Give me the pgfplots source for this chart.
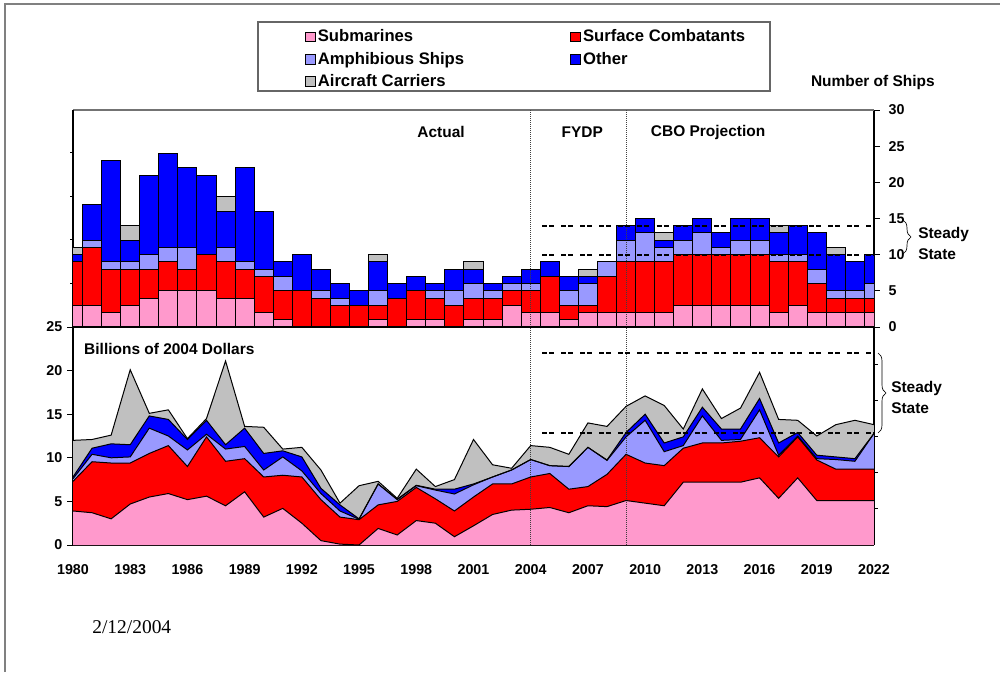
\documentclass[border=0pt]{standalone}
\usepackage{pgfplots}
\pgfplotsset{compat=1.18}
\usepackage{pgfplotstable}
\usepackage{fontspec}
\setmainfont{Liberation Sans}
\newfontfamily\datefont{Liberation Serif}
\usetikzlibrary{decorations.pathreplacing}
\definecolor{subc}{HTML}{FF99CC}
\definecolor{surfc}{HTML}{FF0000}
\definecolor{amphc}{HTML}{9999FF}
\definecolor{otherc}{HTML}{0000FF}
\definecolor{carrc}{HTML}{C0C0C0}
\newcommand\tfont{\fontsize{11.6}{13}\selectfont\bfseries}
\newcommand\kfont{\fontsize{10.7}{12}\selectfont\bfseries}
\newcommand\lfont{\fontsize{12.5}{14}\selectfont\bfseries}

\pgfplotstableread{
year sub surf amph other carr
1980 3 6 0 1 1
1981 3 8 1 5 0
1982 2 6 1 14 0
1983 3 5 1 3 2
1984 4 4 2 11 0
1985 5 4 2 13 0
1986 5 3 3 11 0
1987 5 5 0 11 0
1988 4 5 2 5 2
1989 4 4 1 13 0
1990 2 5 1 8 0
1991 1 4 2 2 0
1992 0 5 0 5 0
1993 0 4 1 3 0
1994 0 3 1 2 0
1995 0 3 0 2 0
1996 1 2 2 4 1
1997 0 4 0 2 0
1998 1 4 0 2 0
1999 1 3 1 1 0
2000 0 3 2 3 0
2001 1 3 2 2 1
2002 1 3 1 1 0
2003 3 2 1 1 0
2004 2 3 1 2 0
2005 2 5 0 2 0
2006 1 2 2 2 0
2007 2 1 3 1 1
2008 2 5 2 0 0
2009 2 7 3 2 0
2010 2 7 4 2 0
2011 2 7 2 1 1
2012 3 7 2 2 0
2013 3 7 3 2 0
2014 3 7 1 2 0
2015 3 7 2 3 0
2016 3 7 2 3 0
2017 2 7 1 3 1
2018 3 6 1 4 0
2019 2 4 2 5 0
2020 2 2 1 5 1
2021 2 2 1 4 0
2022 2 2 2 4 0
}\ships

\pgfplotstableread{
year sub surf amph other carr
1980 3.9 3.4 0.3 0.2 4.2
1981 3.7 5.85 0.85 0.7 1.0
1982 3.0 6.4 0.6 1.6 1.0
1983 4.7 4.7 0.7 1.4 8.6
1984 5.5 5.0 2.9 1.4 0.3
1985 5.9 5.5 1.1 1.9 1.1
1986 5.2 3.8 1.9 1.2 0.1
1987 5.6 6.8 0.3 1.6 0.2
1988 4.5 5.1 1.4 0.5 9.6
1989 6.1 3.8 1.4 2.1 0.2
1990 3.2 4.6 0.8 1.9 3.0
1991 4.2 3.8 2.1 0.7 0.2
1992 2.5 5.3 0.7 1.6 1.1
1993 0.5 4.7 0.7 0.6 2.1
1994 0.1 3.1 0.7 0.7 0.2
1995 0.0 2.9 0.05 0.05 3.8
1996 1.9 2.7 2.4 0.0 0.3
1997 1.15 3.85 0.2 0.05 0.1
1998 2.8 3.8 0.2 0.05 1.85
1999 2.5 2.8 1.0 0.1 0.3
2000 0.95 2.95 1.95 0.55 1.1
2001 2.2 3.3 1.4 0.1 5.1
2002 3.5 3.5 0.8 0.0 1.4
2003 4.0 3.0 1.6 0.0 0.2
2004 4.1 3.7 2.0 0.0 1.6
2005 4.3 3.9 0.9 0.0 2.1
2006 3.7 2.7 2.6 0.0 1.4
2007 4.5 2.2 4.5 0.0 2.8
2008 4.4 3.7 1.6 0.05 3.85
2009 5.1 5.3 2.0 0.5 3.0
2010 4.8 4.6 4.9 0.7 2.1
2011 4.5 4.6 1.6 1.0 4.3
2012 7.2 3.9 0.3 1.0 0.9
2013 7.2 4.5 3.1 1.0 2.1
2014 7.2 4.5 0.3 1.3 1.2
2015 7.2 4.7 0.2 1.2 2.4
2016 7.7 4.6 3.2 1.3 3.0
2017 5.35 4.75 0.2 1.4 2.7
2018 7.7 4.7 0.1 0.4 1.4
2019 5.1 4.65 0.15 0.4 2.2
2020 5.1 3.6 1.1 0.3 3.7
2021 5.1 3.6 0.9 0.3 4.4
2022 5.1 3.6 4.1 0.0 1.0
}\costs

\pgfplotsset{
  sqlegend/.style={legend image code/.code={\draw[##1, draw=black, line width=0.5pt] (-2.2pt,-3.6pt) rectangle (5pt,3.6pt);}},
  botgeom/.style={at={(54.75pt,95.25pt)}, anchor=south west, scale only axis,
    width=600.75pt, height=163.5pt, xmin=1980, xmax=2022, ymin=0, ymax=25},
  topgeom/.style={at={(54.75pt,258.75pt)}, anchor=south west, scale only axis,
    width=600.75pt, height=162.75pt, xmin=1980, xmax=2022, ymin=0, ymax=30},
}
\tikzset{
  steady/.style={black, line width=1.5pt, dash pattern=on 3.75pt off 1.5pt on 3.75pt off 5.3pt},
  vdot/.style={black!75, line width=0.6pt, dash pattern=on 0.75pt off 0.75pt},
}

\begin{document}
\begin{tikzpicture}[x=0.75pt,y=0.75pt]
\path[use as bounding box] (0,0) rectangle (1000,672);
\draw[black!50, line width=1pt] (5,0) -- (5,668) -- (1000,668);

% ---------- bottom panel: costs (fills) ----------
\begin{axis}[
  botgeom,
  axis x line*=bottom, axis y line*=left,
  axis line style={line width=0.8pt},
  stack plots=y,
  xtick={1980,1983,...,2022}, minor x tick num=2,
  ytick={0,5,...,25},
  tick align=outside,
  major tick length=4.5pt, minor tick length=4.5pt,
  every x tick/.append style={yshift=4.5pt},
  tick style={black, line width=0.6pt},
  /pgf/number format/1000 sep={},
  /pgf/number format/assume math mode=true,
  tick label style={font=\kfont},
  xticklabel style={yshift=-6.5pt},
  clip=false,
]
\addplot[fill=subc, draw=none] table[x=year,y=sub]{\costs} \closedcycle;
\addplot[fill=surfc, draw=none] table[x=year,y=surf]{\costs} \closedcycle;
\addplot[fill=amphc, draw=none] table[x=year,y=amph]{\costs} \closedcycle;
\addplot[fill=otherc, draw=none] table[x=year,y=other]{\costs} \closedcycle;
\addplot[fill=carrc, draw=none] table[x=year,y=carr]{\costs} \closedcycle;
\draw[black, line width=0.8pt] (rel axis cs:1,0) -- (rel axis cs:1,1);
\draw[black, line width=0.6pt]
  (rel axis cs:1,0.166) -- (rel axis cs:1.005,0.166)
  (rel axis cs:1,0.332) -- (rel axis cs:1.005,0.332)
  (rel axis cs:1,0.498) -- (rel axis cs:1.005,0.498)
  (rel axis cs:1,0.664) -- (rel axis cs:1.005,0.664)
  (rel axis cs:1,0.830) -- (rel axis cs:1.005,0.830);
\node[anchor=west, font=\tfont, inner sep=0pt] at (rel axis cs:0.0137,0.9) {Billions of 2004 Dollars};
\end{axis}

% ---------- bottom panel: outlines and guides ----------
\begin{axis}[botgeom, hide axis, stack plots=y]
\addplot[draw=black, line width=0.75pt, mark=none] table[x=year,y=sub]{\costs};
\addplot[draw=black, line width=0.75pt, mark=none] table[x=year,y=surf]{\costs};
\addplot[draw=black, line width=0.75pt, mark=none] table[x=year,y=amph]{\costs};
\addplot[draw=black, line width=0.75pt, mark=none] table[x=year,y=other]{\costs};
\addplot[draw=black, line width=0.75pt, mark=none] table[x=year,y=carr]{\costs};
\draw[steady] (axis cs:2004.6,22) -- (axis cs:2022,22);
\draw[steady] (axis cs:2004.6,12.9) -- (axis cs:2022,12.9);
\draw[vdot] (axis cs:2004,0) -- (axis cs:2004,25);
\draw[vdot] (axis cs:2009,0) -- (axis cs:2009,25);
\end{axis}

% ---------- top panel: ships (fills) ----------
\begin{axis}[
  topgeom,
  ybar stacked, bar width=1,
  clip mode=individual,
  axis x line*=bottom, axis y line*=right,
  axis line style={line width=0.8pt},
  xtick=\empty,
  ytick={0,5,...,30},
  tick align=outside, major tick length=4.5pt,
  tick style={black, line width=0.6pt},
  /pgf/number format/assume math mode=true,
  tick label style={font=\kfont},
  yticklabel style={xshift=3pt},
  legend columns=2,
  legend cell align=left,
  legend style={at={(rel axis cs:0.2842,1.396)}, anchor=north west, draw=none, fill=none,
    font=\lfont, row sep=2.2pt,
    /tikz/every even column/.append style={column sep=77.5pt}},
]
\addplot[fill=subc, draw=none, sqlegend] table[x=year,y=sub]{\ships};
\addplot[fill=surfc, draw=none, sqlegend] table[x=year,y=surf]{\ships};
\addplot[fill=amphc, draw=none, sqlegend] table[x=year,y=amph]{\ships};
\addplot[fill=otherc, draw=none, sqlegend] table[x=year,y=other]{\ships};
\addplot[fill=carrc, draw=none, sqlegend] table[x=year,y=carr]{\ships};
\legend{Submarines, Surface Combatants, Amphibious Ships, Other, Aircraft Carriers}
\draw[black, line width=0.8pt] (rel axis cs:0,0) -- (rel axis cs:0,1);
\draw[black!55, line width=1pt] (rel axis cs:0,1) -- (rel axis cs:1,1);
\draw[black, line width=0.6pt]
  (rel axis cs:0,0.2009) -- (rel axis cs:-0.004,0.2009)
  (rel axis cs:0,0.4018) -- (rel axis cs:-0.004,0.4018)
  (rel axis cs:0,0.6028) -- (rel axis cs:-0.004,0.6028)
  (rel axis cs:0,0.8037) -- (rel axis cs:-0.004,0.8037);
\node[font=\tfont] at (axis cs:1999.3,27.0) {Actual};
\node[font=\tfont] at (axis cs:2006.7,27.0) {FYDP};
\node[font=\tfont] at (axis cs:2013.3,26.9) {CBO Projection};
\end{axis}

% ---------- top panel: outlines and guides ----------
\begin{axis}[topgeom, hide axis, ybar stacked, bar width=1]
\addplot[fill=none, draw=black, line width=0.75pt] table[x=year,y=sub]{\ships};
\addplot[fill=none, draw=black, line width=0.75pt] table[x=year,y=surf]{\ships};
\addplot[fill=none, draw=black, line width=0.75pt] table[x=year,y=amph]{\ships};
\addplot[fill=none, draw=black, line width=0.75pt] table[x=year,y=other]{\ships};
\addplot[fill=none, draw=black, line width=0.75pt] table[x=year,y=carr]{\ships};
\draw[steady] (axis cs:2004.6,14) -- (axis cs:2022,14);
\draw[steady] (axis cs:2004.6,10) -- (axis cs:2022,10);
\draw[vdot] (axis cs:2004,0) -- (axis cs:2004,30);
\draw[vdot] (axis cs:2009,0) -- (axis cs:2009,30);
\end{axis}

% legend frame
\draw[black!60, line width=0.8pt] (258,650) rectangle (770,581);

% annotations
\node[anchor=east, font=\tfont, inner sep=0pt] at (935,589) {Number of Ships};
\draw[black, line width=0.5pt, decorate, decoration={brace, amplitude=6pt}] (903,452) -- (903,418);
\node[anchor=west, font=\tfont, inner sep=0pt] at (918,437) {Steady};
\node[anchor=west, font=\tfont, inner sep=0pt] at (918,418) {State};
\draw[black, line width=0.5pt, decorate, decoration={brace, amplitude=6pt}] (878,319) -- (878,239);
\node[anchor=west, font=\tfont, inner sep=0pt] at (891,283) {Steady};
\node[anchor=west, font=\tfont, inner sep=0pt] at (891,264) {State};
\node[anchor=west, inner sep=0pt, font=\datefont\fontsize{14.6}{16}\selectfont] at (92,45) {2/12/2004};
\end{tikzpicture}
\end{document}
